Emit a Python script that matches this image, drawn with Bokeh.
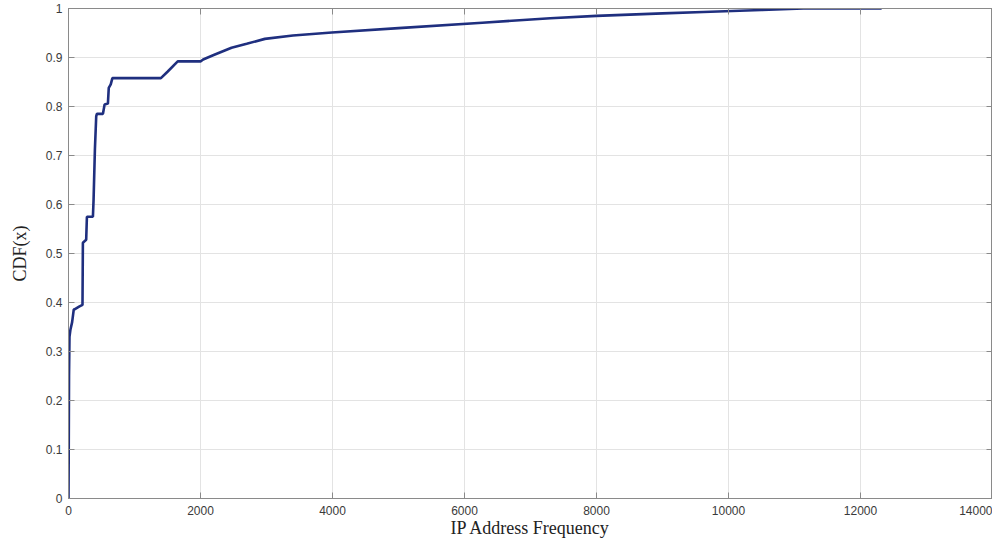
from bokeh.plotting import figure
from bokeh.models import LinearAxis, FixedTicker, Range1d
from bokeh.embed import file_html
from bokeh.resources import INLINE

# CDF of IP address frequency
freq = [0, 3, 8, 15, 30, 55, 80, 91, 167, 212, 218, 268, 279, 370, 380, 400, 420, 430,
        522, 547, 597, 610, 640, 665, 1400, 1500, 1655, 2000, 2040, 2200, 2470, 2700,
        2975, 3400, 3990, 5000, 6270, 7300, 8000, 9000, 9617, 10500, 11135, 12320]
cdf = [0, 0.08, 0.25, 0.33, 0.345, 0.36, 0.386, 0.386, 0.392, 0.395, 0.522, 0.528,
       0.575, 0.575, 0.61, 0.712, 0.78, 0.785, 0.785, 0.804, 0.806, 0.838, 0.845,
       0.858, 0.858, 0.871, 0.892, 0.892, 0.896, 0.905, 0.920, 0.928, 0.938, 0.945,
       0.951, 0.960, 0.971, 0.980, 0.985, 0.990, 0.993, 0.997, 1.0, 1.0]

x_ticks = [0, 2000, 4000, 6000, 8000, 10000, 12000, 14000]
y_ticks = [round(i * 0.1, 1) for i in range(11)]

x_title = "IP Address Frequency"
y_title = "CDF(x)"

AX = "#8a8a8a"
TXT = "#3a3a3a"

p = figure(width=992, height=540, output_backend="svg", toolbar_location=None,
           x_range=Range1d(0, 14000), y_range=Range1d(0, 1),
           min_border_left=68, min_border_right=0, min_border_top=8,
           min_border_bottom=41, background_fill_color="white",
           border_fill_color="white")

p.line(freq, cdf, line_color="#1f2f7f", line_width=2.6)

p.outline_line_color = AX
p.outline_line_width = 1

p.xaxis.ticker = FixedTicker(ticks=x_ticks)
p.yaxis.ticker = FixedTicker(ticks=y_ticks)
p.yaxis.major_label_overrides = {0: "0", 1: "1"}

for ax in (p.xaxis[0], p.yaxis[0]):
    ax.axis_line_color = AX
    ax.major_tick_line_color = AX
    ax.major_tick_in = 6
    ax.major_tick_out = 0
    ax.minor_tick_line_color = None
    ax.major_label_text_font = "Liberation Sans"
    ax.major_label_text_font_size = "12px"
    ax.major_label_text_color = TXT
    ax.axis_label_text_font = "Liberation Serif"
    ax.axis_label_text_font_size = "18px"
    ax.axis_label_text_font_style = "normal"
    ax.axis_label_text_color = "#222222"

p.xaxis.axis_label = x_title
p.yaxis.axis_label = y_title
p.xaxis.major_label_standoff = 7
p.yaxis.major_label_standoff = 6
p.xaxis.axis_label_standoff = 0
p.yaxis.axis_label_standoff = 13

for loc, tk in (("above", x_ticks), ("right", y_ticks)):
    a = LinearAxis(ticker=FixedTicker(ticks=tk), major_label_text_font_size="0px",
                   major_label_text_color=None,
                   major_tick_in=6, major_tick_out=0, major_label_standoff=0,
                   axis_line_color=AX, major_tick_line_color=AX,
                   minor_tick_line_color=None)
    p.add_layout(a, loc)

p.xgrid.ticker = FixedTicker(ticks=x_ticks)
p.ygrid.ticker = FixedTicker(ticks=y_ticks)
p.grid.grid_line_color = "#e3e3e3"
p.grid.grid_line_width = 1

open("out.html", "w").write(file_html(p, INLINE))
